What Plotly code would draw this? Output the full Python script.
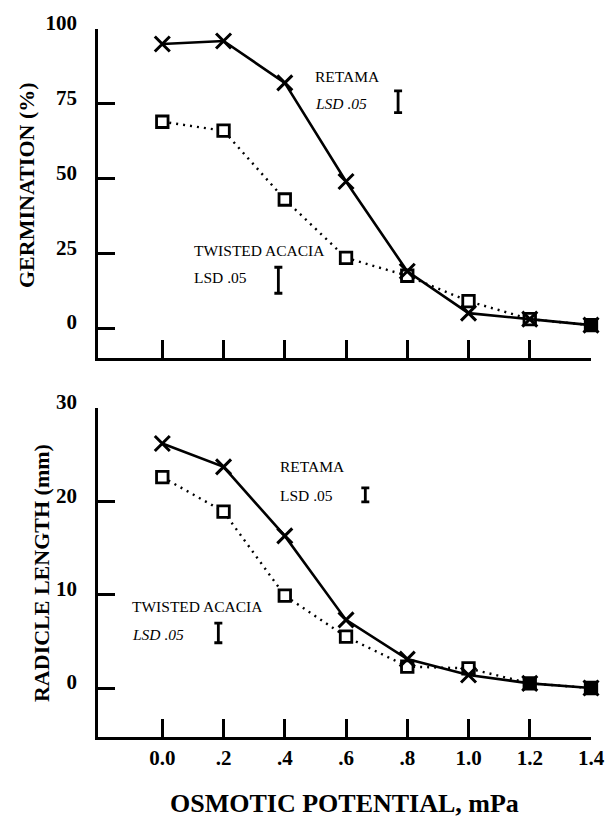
import plotly.graph_objects as go

# Osmotic potential levels (mPa)
potential = [0.0, 0.2, 0.4, 0.6, 0.8, 1.0, 1.2, 1.4]
x_tick_labels = ["0.0", ".2", ".4", ".6", ".8", "1.0", "1.2", "1.4"]

# Germination (%)
germ_retama = [95, 96, 82, 49, 19, 5, 3, 1]
germ_acacia = [69, 66, 43, 23.5, 17.5, 9, 3, 1]

# Radicle length (mm)
rad_retama = [26.2, 23.7, 16.3, 7.3, 3.1, 1.4, 0.5, 0.0]
rad_acacia = [22.6, 18.9, 9.9, 5.5, 2.3, 2.1, 0.5, 0.0]

# LSD (.05) values shown as bars
lsd_germ_retama = 7.3
lsd_germ_acacia = 8.7
lsd_rad_retama = 1.5
lsd_rad_acacia = 2.1

germ_ticks = [0, 25, 50, 75, 100]
rad_ticks = [0, 10, 20, 30]

SERIF = "Liberation Serif"
W, H = 609, 820

fig = go.Figure()


def add_panel(xa, ya, retama, acacia, acacia_fill):
    fig.add_trace(go.Scatter(
        x=potential, y=acacia, mode="lines+markers", xaxis=xa, yaxis=ya,
        line=dict(color="black", width=2.4, dash="2px,5px"),
        marker=dict(symbol="square", size=11.5, color=acacia_fill,
                    line=dict(color="black", width=2.8)),
        showlegend=False, cliponaxis=False))
    fig.add_trace(go.Scatter(
        x=potential, y=retama, mode="lines+markers", xaxis=xa, yaxis=ya,
        line=dict(color="black", width=2.6),
        marker=dict(symbol="x-thin", size=15, color="black",
                    line=dict(color="black", width=3)),
        showlegend=False, cliponaxis=False))


def add_lsd(xa, ya, x, y, lsd):
    fig.add_trace(go.Scatter(
        x=[x], y=[y], mode="markers", xaxis=xa, yaxis=ya,
        marker=dict(size=1, color="rgba(0,0,0,0)"),
        error_y=dict(type="data", array=[lsd / 2], color="black",
                     thickness=2.8, width=4),
        showlegend=False, hoverinfo="skip"))


# open squares are white inside; where both species coincide the mark is solid
top_fill = ["white"] * 7 + ["black"]
bot_fill = ["white"] * 6 + ["black", "black"]

add_panel("x", "y", germ_retama, germ_acacia, top_fill)
add_panel("x2", "y2", rad_retama, rad_acacia, bot_fill)

add_lsd("x", "y", 0.77, 75.7, lsd_germ_retama)
add_lsd("x", "y", 0.379, 16.0, lsd_germ_acacia)
add_lsd("x2", "y2", 0.663, 20.7, lsd_rad_retama)
add_lsd("x2", "y2", 0.183, 5.9, lsd_rad_acacia)

label_font = dict(family=SERIF, size=15.5, color="black")


def label(xr, yr, x, y, text, italic=False):
    t = f"<i>{text}</i>" if italic else text
    fig.add_annotation(x=x, y=y, xref=xr, yref=yr, text=t, showarrow=False,
                       xanchor="left", yanchor="middle", font=label_font)


label("x", "y", 0.493, 84, "RETAMA")
label("x", "y", 0.493, 75, "LSD .05", italic=True)
label("x", "y", 0.098, 26, "TWISTED ACACIA")
label("x", "y", 0.098, 17, "LSD .05")
label("x2", "y2", 0.379, 23.7, "RETAMA")
label("x2", "y2", 0.379, 20.6, "LSD .05")
label("x2", "y2", -0.104, 8.7, "TWISTED ACACIA")
label("x2", "y2", -0.104, 5.7, "LSD .05", italic=True)

# Axis titles
title_font = dict(family=SERIF, size=22, color="black")
fig.add_annotation(x=-0.144, y=0.7744, xref="paper", yref="paper",
                   text="<b>GERMINATION (%)</b>", textangle=-90, showarrow=False,
                   xanchor="center", yanchor="middle", font=title_font)
fig.add_annotation(x=-0.1156, y=0.3012, xref="paper", yref="paper",
                   text="<b>RADICLE LENGTH (mm)</b>", textangle=-90, showarrow=False,
                   xanchor="center", yanchor="middle", font=title_font)
fig.add_annotation(x=0.499, y=0.0207, xref="paper", yref="paper",
                   text="<b>OSMOTIC POTENTIAL, mPa</b>", showarrow=False,
                   xanchor="center", yanchor="middle",
                   font=dict(family=SERIF, size=26, color="black"))

tick_font = dict(family=SERIF, size=21, color="black", weight="bold")
x_common = dict(range=[-0.21, 1.4], tickvals=potential, ticktext=x_tick_labels,
                showline=True, linecolor="black", linewidth=2.6,
                ticks="inside", ticklen=18, tickwidth=2.6, tickcolor="black",
                showgrid=False, zeroline=False, fixedrange=True,
                tickfont=tick_font, automargin=False)
y_common = dict(showline=True, linecolor="black", linewidth=2.6,
                ticks="inside", ticklen=17, tickwidth=2.6, tickcolor="black",
                showgrid=False, zeroline=False, tickfont=tick_font,
                ticklabelshift=-6, ticklabelstandoff=14,
                automargin=False)

fig.update_layout(
    width=W, height=H,
    margin=dict(l=98, r=18, t=0, b=0, autoexpand=False),
    paper_bgcolor="white", plot_bgcolor="white",
    xaxis=dict(**x_common, domain=[0, 1], anchor="y", showticklabels=False),
    yaxis=dict(**y_common, domain=[0.5634, 0.9646], anchor="x",
               range=[-10, 100], tickvals=germ_ticks),
    xaxis2=dict(**x_common, domain=[0, 1], anchor="y2", showticklabels=True,
                ticklabelstandoff=0),
    yaxis2=dict(**y_common, domain=[0.1012, 0.5024], anchor="x2",
                range=[-5.25, 30], tickvals=rad_ticks),
)

fig.write_html("out.html")
